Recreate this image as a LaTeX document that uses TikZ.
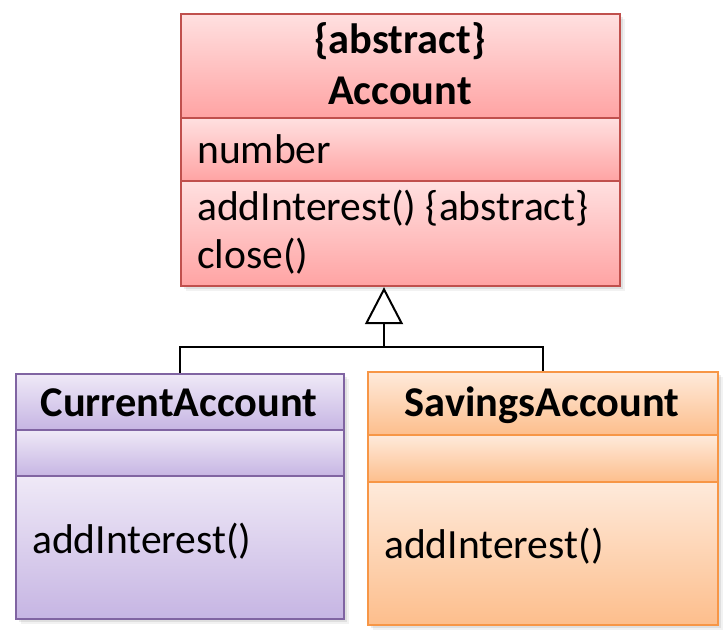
\documentclass[tikz,border=0pt]{standalone}
\usepackage{fontspec}
\setmainfont{Carlito}
\usetikzlibrary{arrows.meta}
\definecolor{redline}{HTML}{C0504D}
\definecolor{redtop}{HTML}{FFE0E0}
\definecolor{redbot}{HTML}{FFA3A3}
\definecolor{purline}{HTML}{8064A2}
\definecolor{purtop}{HTML}{EFE9F7}
\definecolor{purbot}{HTML}{C6B5E3}
\definecolor{oraline}{HTML}{F79646}
\definecolor{oratop}{HTML}{FEEADB}
\definecolor{orabot}{HTML}{FDBE8C}
\tikzset{
  comp/.style={rectangle, anchor=north west, inner sep=0pt, line width=2.2pt},
  redcomp/.style={comp, draw=redline, top color=redtop, bottom color=redbot},
  purcomp/.style={comp, draw=purline, top color=purtop, bottom color=purbot},
  oracomp/.style={comp, draw=oraline, top color=oratop, bottom color=orabot},
  txt/.style={inner sep=0pt, font=\fontsize{41.6}{48}\selectfont},
  btxt/.style={inner sep=0pt, font=\fontsize{42.4}{48}\selectfont\bfseries},
  conn/.style={line width=2pt, draw=black}
}
\begin{document}
\begin{tikzpicture}[x=1pt,y=-1pt]
\useasboundingbox (0,0) rectangle (725,636);
% shadows
\foreach \d/\o in {2/0.10,4/0.08,6/0.05}{
  \fill[black, opacity=\o] (180+\d,13+\d) rectangle (619+\d,285+\d);
  \fill[black, opacity=\o] (15+\d,373+\d) rectangle (343+\d,618+\d);
  \fill[black, opacity=\o] (367+\d,371+\d) rectangle (717+\d,624+\d);
}
% Account
\node[redcomp, minimum width=439pt, minimum height=104pt] (accH) at (180,13) {};
\node[redcomp, minimum width=439pt, minimum height=63pt] (accA) at (180,117) {};
\node[redcomp, minimum width=439pt, minimum height=105pt] (accM) at (180,180) {};
\node[btxt, anchor=base] (accT1) at (400,54) {\{abstract\}};
\node[btxt, anchor=base] (accT2) at (400,105) {Account};
\node[txt, anchor=base west] (accN) at (197,164) {number};
\node[txt, anchor=base west] (accM1) at (197,221) {addInterest() \{abstract\}};
\node[txt, anchor=base west] (accM2) at (197,269) {close()};
% CurrentAccount
\node[purcomp, minimum width=328pt, minimum height=56pt] (curH) at (15,373) {};
\node[purcomp, minimum width=328pt, minimum height=46pt] (curA) at (15,429) {};
\node[purcomp, minimum width=328pt, minimum height=143pt] (curM) at (15,475) {};
\node[btxt, anchor=base] (curT) at (179,416) {CurrentAccount};
\node[txt, anchor=base west] (curM1) at (32,553) {addInterest()};
% SavingsAccount
\node[oracomp, minimum width=350pt, minimum height=63pt] (savH) at (367,371) {};
\node[oracomp, minimum width=350pt, minimum height=47pt] (savA) at (367,434) {};
\node[oracomp, minimum width=350pt, minimum height=143pt] (savM) at (367,481) {};
\node[btxt, anchor=base] (savT) at (542,416) {SavingsAccount};
\node[txt, anchor=base west] (savM1) at (384,558) {addInterest()};
% generalization
\coordinate (j) at (384,347);
\draw[conn] (curH.north) |- (j);
\draw[conn] (savH.north) |- (j);
\draw[conn, -{Triangle[open, length=37pt, width=38pt, line width=2pt]}] (j) -- (j |- accM.south);
\end{tikzpicture}
\end{document}
